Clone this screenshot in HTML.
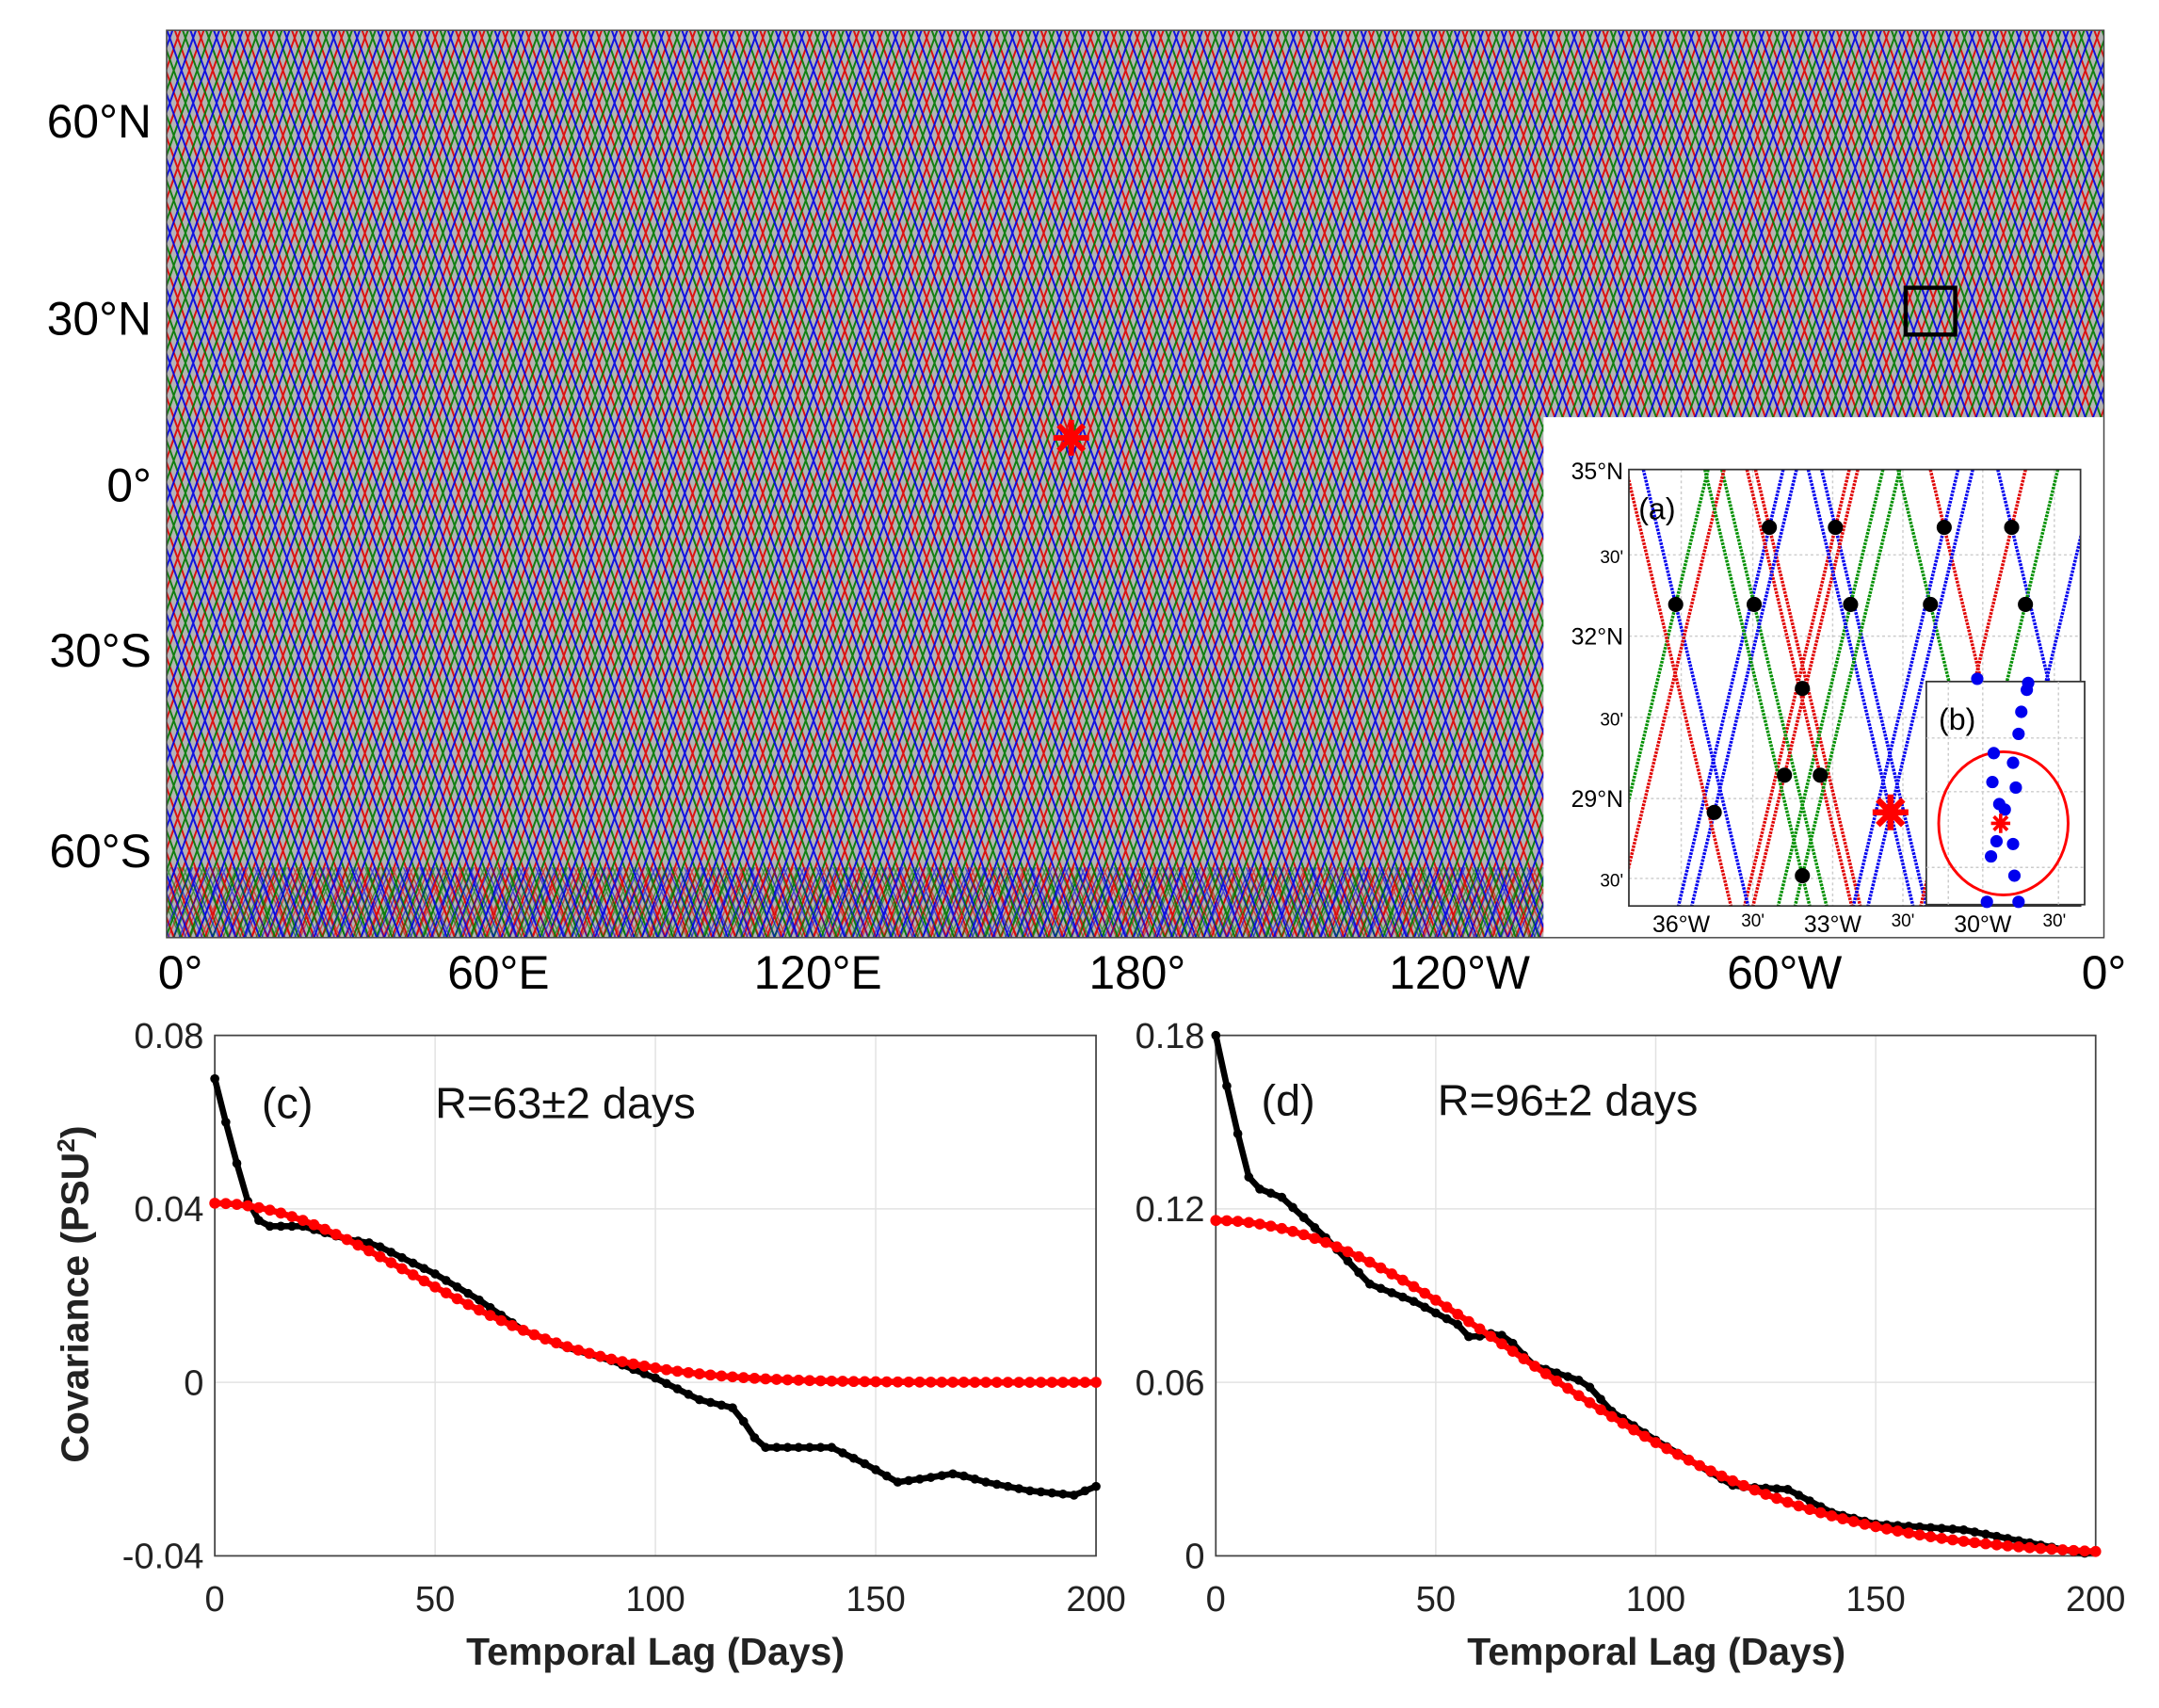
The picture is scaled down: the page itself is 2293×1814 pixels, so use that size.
<!DOCTYPE html>
<html><head><meta charset="utf-8">
<style>
html,body{margin:0;padding:0;background:#fff;}
svg{display:block;}
text{font-family:"Liberation Sans",sans-serif;}
</style></head>
<body>
<svg id="s" width="2293" height="1814" viewBox="0 0 1568 1240.5" preserveAspectRatio="none" xmlns="http://www.w3.org/2000/svg">
<defs>
<clipPath id="mapclip"><rect x="121" y="22" width="1407" height="659"/></clipPath>
<clipPath id="aclip"><rect x="1183" y="341" width="328" height="317"/></clipPath>
<clipPath id="bclip"><rect x="1399" y="495" width="115" height="162"/></clipPath>
<clipPath id="cclip"><rect x="150" y="745" width="655" height="390"/></clipPath>
<clipPath id="dclip"><rect x="878" y="745" width="655" height="390"/></clipPath>
</defs>
<rect x="121" y="22" width="1407" height="659" fill="#b4b4b4"/>
<g id="maplines" clip-path="url(#mapclip)"></g>
<rect x="1121" y="303" width="407" height="378" fill="#fff"/>
<rect x="121" y="22" width="1407" height="659" fill="none" stroke="#444" stroke-width="1"/>
<rect x="1384" y="209" width="36" height="34" fill="none" stroke="#000" stroke-width="3"/>
<g id="star1"></g>
<g font-size="34" text-anchor="end" fill="#000">
<text x="110" y="100">60°N</text>
<text x="110" y="243">30°N</text>
<text x="110" y="364">0°</text>
<text x="110" y="484">30°S</text>
<text x="110" y="630">60°S</text>
</g>
<g font-size="34" text-anchor="middle" fill="#000">
<text x="131" y="718">0°</text>
<text x="362" y="718">60°E</text>
<text x="594" y="718">120°E</text>
<text x="826" y="718">180°</text>
<text x="1060" y="718">120°W</text>
<text x="1296" y="718">60°W</text>
<text x="1528" y="718">0°</text>
</g>
<g id="agrid"></g>
<g id="alines" clip-path="url(#aclip)"></g>
<g id="adots"></g>
<rect x="1183" y="341" width="328" height="317" fill="none" stroke="#333" stroke-width="1.2"/>
<text x="1190" y="377" font-size="22">(a)</text>
<g font-size="17" text-anchor="end">
<text x="1179" y="348">35°N</text>
<text x="1179" y="409" font-size="13">30'</text>
<text x="1179" y="468">32°N</text>
<text x="1179" y="527" font-size="13">30'</text>
<text x="1179" y="586">29°N</text>
<text x="1179" y="644" font-size="13">30'</text>
</g>
<g font-size="17" text-anchor="middle">
<text x="1221" y="677">36°W</text>
<text x="1273" y="673" font-size="13">30'</text>
<text x="1331" y="677">33°W</text>
<text x="1382" y="673" font-size="13">30'</text>
<text x="1440" y="677">30°W</text>
<text x="1492" y="673" font-size="13">30'</text>
</g>
<rect x="1399" y="495" width="115" height="162" fill="#fff" stroke="#333" stroke-width="1.2"/>
<g id="bstuff" clip-path="url(#bclip)"></g>
<g id="bdots"></g>
<text x="1408" y="530" font-size="22">(b)</text>
<g id="plots"></g>
<text transform="translate(64,940) rotate(-90)" font-size="28" font-weight="bold" text-anchor="middle" fill="#222">Covariance (PSU<tspan font-size="18" dy="-10">2</tspan><tspan dy="10">)</tspan></text>
<g font-size="28" font-weight="bold" text-anchor="middle" fill="#222">
<text x="476" y="1209">Temporal Lag (Days)</text>
<text x="1203" y="1209">Temporal Lag (Days)</text>
</g>
<g font-size="32" fill="#111">
<text x="190" y="812">(c)</text>
<text x="316" y="812">R=63±2 days</text>
<text x="916" y="810">(d)</text>
<text x="1044" y="810">R=96±2 days</text>
</g>
</svg>
<script>
var NS="http://www.w3.org/2000/svg";
function el(p,t,a){var e=document.createElementNS(NS,t);for(var k in a)e.setAttribute(k,a[k]);p.appendChild(e);return e;}
function $(id){return document.getElementById(id);}
(function(){
 var g=$("maplines");var cols=["#e00000","#007a00","#0000e6"];
 var H=659,y0=22,y1=681,slope=0.36,per=17;
 var d={0:"",1:"",2:""};
 for(var x=121-300;x<1528+300;x+=per){
  for(var c=0;c<3;c++){
   var xo=x+c*per/3;
   d[c]+="M"+xo.toFixed(1)+" "+y0+"L"+(xo+slope*H).toFixed(1)+" "+y1;
   d[c]+="M"+(xo+4).toFixed(1)+" "+y0+"L"+(xo+4-slope*H).toFixed(1)+" "+y1;
  }
 }
 for(var c=0;c<3;c++)el(g,"path",{d:d[c],stroke:cols[c],"stroke-width":1.35,fill:"none","stroke-opacity":0.9});
 var d2={0:"",1:"",2:""};
 for(var x=121-100;x<1528+100;x+=12){for(var c=0;c<3;c++){var xo=x+c*4;
  d2[c]+="M"+xo+" 630L"+(xo+22)+" 681M"+(xo+3)+" 630L"+(xo-19)+" 681";}}
 for(var c=0;c<3;c++)el(g,"path",{d:d2[c],stroke:cols[c],"stroke-width":1,fill:"none","stroke-opacity":0.6});
})();
function star(g,cx,cy,r,w,col){var d="";for(var i=0;i<4;i++){var a=i*Math.PI/4;d+="M"+(cx-r*Math.cos(a))+" "+(cy-r*Math.sin(a))+"L"+(cx+r*Math.cos(a))+" "+(cy+r*Math.sin(a));}
 el(g,"path",{d:d,stroke:col,"stroke-width":w,fill:"none"});}
star($("star1"),778,318,13,4,"#f00");
(function(){
 var g=$("agrid");
 [1221,1273,1331,1382,1440,1492].forEach(function(x){el(g,"line",{x1:x,y1:341,x2:x,y2:658,stroke:"#ccc","stroke-dasharray":"2 2","stroke-width":1});});
 [403,462,521,580,638].forEach(function(y){el(g,"line",{x1:1183,y1:y,x2:1511,y2:y,stroke:"#ccc","stroke-dasharray":"2 2","stroke-width":1});});
 var L=$("alines");var s=0.24;
 var C={r:"#e00000",g:"#009000",b:"#0000ee"};
 var lines=[
 [1285,383,1,"r"],[1285,383,-1,"b"],[1333,383,1,"b"],[1333,383,-1,"r"],
 [1412,383,1,"r"],[1412,383,-1,"b"],[1461,383,1,"b"],[1461,383,-1,"r"],
 [1217,439,1,"b"],[1217,439,-1,"g"],[1274,439,1,"g"],[1402,439,1,"g"],[1471,439,-1,"g"],
 [1344,439,-1,"g"],[1296,563,-1,"r"],[1322,563,1,"r"],[1245,590,-1,"b"],[1373,590,1,"b"],[1373,590,-1,"b"],
 [1200,420,1,"r"],[1190,600,-1,"r"],[1309,636,1,"g"],[1309,636,-1,"g"],[1480,520,-1,"b"]];
 lines.forEach(function(l){var x0=l[0],y0=l[1],dd=l[2];
  el(L,"line",{x1:x0+dd*s*(341-y0),y1:341,x2:x0+dd*s*(658-y0),y2:658,stroke:C[l[3]],"stroke-width":2.4,"stroke-dasharray":"1.8 0.8"});});
 var D=$("adots");
 [[1285,383],[1333,383],[1412,383],[1461,383],[1217,439],[1274,439],[1344,439],[1402,439],[1471,439],[1309,500],[1296,563],[1322,563],[1245,590],[1309,636]].forEach(function(p){el(D,"circle",{cx:p[0],cy:p[1],r:5.5,fill:"#000"});});
 star(D,1373,590,13,4.5,"#f00");
 var B=$("bstuff");
 [1415,1440,1495].forEach(function(x){el(B,"line",{x1:x,y1:495,x2:x,y2:657,stroke:"#ccc","stroke-dasharray":"2 2"});});
 [536,575,630].forEach(function(y){el(B,"line",{x1:1399,y1:y,x2:1514,y2:y,stroke:"#ccc","stroke-dasharray":"2 2"});});
 el(B,"ellipse",{cx:1455,cy:598,rx:47,ry:52,fill:"none",stroke:"#f00","stroke-width":2});
 var bd=$("bdots");
 [[1473,496],[1472,501],[1468,517],[1466,533],[1448,547],[1462,554],[1447,568],[1464,572],[1452,584],[1456,588],[1450,611],[1462,613],[1446,622],[1463,636],[1443,655],[1466,655],[1436,493]].forEach(function(p){el(bd,"circle",{cx:p[0],cy:p[1],r:4.5,fill:"#0000ee"});});
 star(bd,1453,598,7,2.5,"#f00");
})();
function interp(pts,t){for(var i=0;i<pts.length-1;i++){if(t>=pts[i][0]&&t<=pts[i+1][0]){var f=(t-pts[i][0])/(pts[i+1][0]-pts[i][0]);return pts[i][1]+f*(pts[i+1][1]-pts[i][1]);}}return pts[pts.length-1][1];}
function plot(x0,x1,ymin,ymax,yt,yl,black,A,R,clip){
 var g=$("plots");var yT=752,yB=1130;
 function X(t){return x0+(x1-x0)*t/200;} function Y(v){return yB-(yB-yT)*(v-ymin)/(ymax-ymin);}
 [50,100,150].forEach(function(t){el(g,"line",{x1:X(t),y1:yT,x2:X(t),y2:yB,stroke:"#e2e2e2","stroke-width":1});});
 yt.forEach(function(v){el(g,"line",{x1:x0,y1:Y(v),x2:x1,y2:Y(v),stroke:"#e2e2e2","stroke-width":1});});
 el(g,"rect",{x:x0,y:yT,width:x1-x0,height:yB-yT,fill:"none",stroke:"#444","stroke-width":1.2});
 yt.forEach(function(v,i){var t=el(g,"text",{x:x0-8,y:Y(v)+9,"font-size":26,"text-anchor":"end",fill:"#222"});t.textContent=yl[i];});
 [0,50,100,150,200].forEach(function(v){var t=el(g,"text",{x:X(v),y:1170,"font-size":26,"text-anchor":"middle",fill:"#222"});t.textContent=v;});
 var G=el(g,"g",{"clip-path":"url(#"+clip+")"});
 var pb="",pr="",db=[],dr=[];
 for(var t=0;t<=200;t+=2.5){var vb=interp(black,t);var vr=A*Math.exp(-(t/R)*(t/R));
  pb+=(t?"L":"M")+X(t).toFixed(1)+" "+Y(vb).toFixed(1);pr+=(t?"L":"M")+X(t).toFixed(1)+" "+Y(vr).toFixed(1);
  db.push([X(t),Y(vb)]);dr.push([X(t),Y(vr)]);}
 el(G,"path",{d:pb,stroke:"#000","stroke-width":4.5,fill:"none"});
 db.forEach(function(p){el(G,"circle",{cx:p[0],cy:p[1],r:3.3,fill:"#000"});});
 el(G,"path",{d:pr,stroke:"#f00","stroke-width":4.5,fill:"none"});
 dr.forEach(function(p){el(G,"circle",{cx:p[0],cy:p[1],r:4,fill:"#f00"});});
}
plot(156,796,-0.04,0.08,[0.08,0.04,0,-0.04],["0.08","0.04","0","-0.04"],
 [[0,0.070],[4,0.054],[8,0.040],[11,0.036],[20,0.036],[30,0.033],[36,0.032],[40,0.030],[50,0.025],[60,0.019],[70,0.012],[80,0.008],[90,0.005],[100,0.001],[110,-0.004],[118,-0.006],[124,-0.015],[130,-0.015],[140,-0.015],[148,-0.019],[155,-0.023],[162,-0.022],[168,-0.021],[175,-0.023],[185,-0.025],[195,-0.026],[200,-0.024]],0.0413,63,"cclip");
plot(883,1522,0,0.18,[0.18,0.12,0.06,0],["0.18","0.12","0.06","0"],
 [[0,0.180],[4,0.152],[8,0.128],[15,0.124],[25,0.110],[35,0.094],[45,0.088],[55,0.080],[58,0.075],[62,0.077],[66,0.076],[72,0.066],[78,0.063],[84,0.060],[90,0.050],[100,0.040],[110,0.031],[118,0.024],[130,0.023],[140,0.015],[150,0.011],[160,0.010],[170,0.009],[180,0.006],[190,0.003],[197,0.0008],[200,0.0015]],0.116,96,"dclip");
</script>
</body></html>
